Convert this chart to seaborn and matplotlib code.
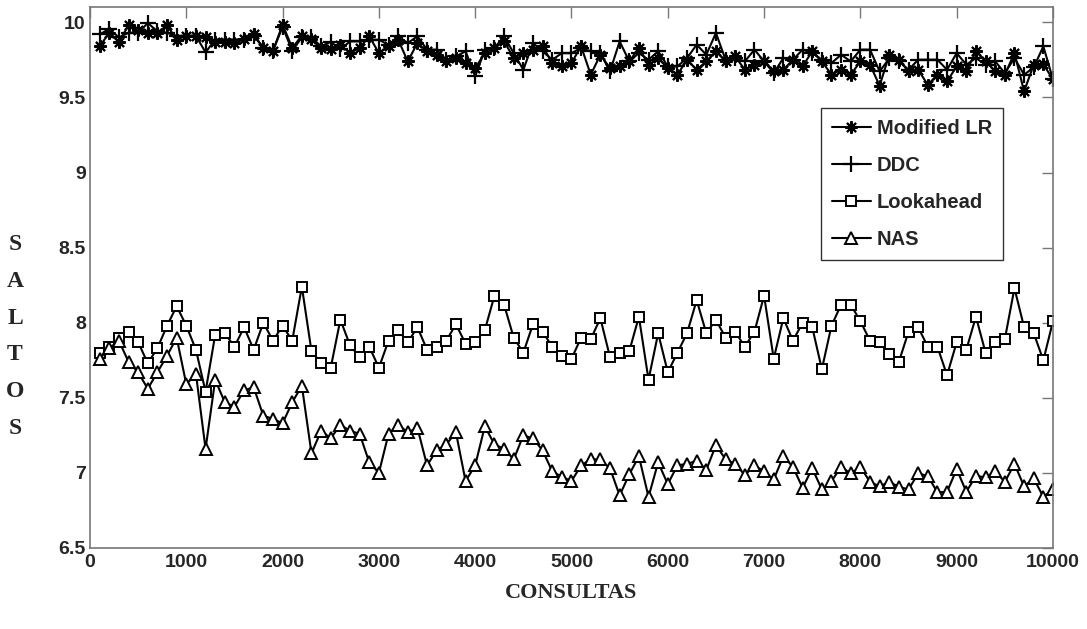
import matplotlib
matplotlib.use("Agg")
import matplotlib.pyplot as plt
import seaborn as sns
import pandas as pd

consultas = list(range(100, 10001, 100))

modified_lr = [9.84, 9.93, 9.87, 9.98, 9.95, 9.93, 9.93, 9.98, 9.885, 9.91, 9.91, 9.90, 9.87, 9.87, 9.86, 9.89, 9.92, 9.83, 9.81, 9.985, 9.83, 9.91, 9.89, 9.83, 9.82,
               9.85, 9.795, 9.83, 9.907, 9.795, 9.84, 9.884, 9.74, 9.862, 9.807, 9.784, 9.74, 9.762, 9.73, 9.695, 9.795, 9.83, 9.873, 9.762, 9.795, 9.818, 9.84, 9.73, 9.707, 9.73,
               9.84, 9.651, 9.784, 9.695, 9.707, 9.74, 9.829, 9.718, 9.762, 9.695, 9.651, 9.751, 9.684, 9.74, 9.807, 9.74, 9.773, 9.684, 9.718, 9.74, 9.673, 9.684, 9.751, 9.707, 9.807,
               9.74, 9.651, 9.684, 9.651, 9.74, 9.718, 9.578, 9.784, 9.751, 9.673, 9.684, 9.584, 9.651, 9.607, 9.707, 9.673, 9.807, 9.74, 9.673, 9.651, 9.795, 9.54, 9.718, 9.72, 9.62]

ddc = [9.92, 9.955, 9.90, 9.93, 9.93, 9.995, 9.94, 9.93, 9.91, 9.91, 9.91, 9.80, 9.885, 9.885, 9.885, 9.885, 9.91, 9.83, 9.81, 9.97, 9.81, 9.90, 9.90, 9.84, 9.87,
       9.82, 9.873, 9.873, 9.884, 9.884, 9.85, 9.907, 9.862, 9.907, 9.818, 9.818, 9.75, 9.773, 9.807, 9.64, 9.818, 9.83, 9.907, 9.795, 9.684, 9.862, 9.807, 9.75, 9.795, 9.795,
       9.829, 9.807, 9.795, 9.673, 9.873, 9.74, 9.795, 9.751, 9.807, 9.707, 9.707, 9.762, 9.851, 9.784, 9.929, 9.751, 9.762, 9.74, 9.818, 9.74, 9.662, 9.762, 9.751, 9.818, 9.795,
       9.75, 9.729, 9.784, 9.74, 9.818, 9.818, 9.673, 9.76, 9.74, 9.684, 9.751, 9.751, 9.751, 9.684, 9.795, 9.718, 9.762, 9.718, 9.74, 9.662, 9.762, 9.651, 9.70, 9.84, 9.62]

lookahead = [7.80, 7.84, 7.90, 7.94, 7.87, 7.73, 7.83, 7.98, 8.11, 7.98, 7.82, 7.54, 7.92, 7.93, 7.84, 7.97, 7.82, 8.00, 7.88, 7.98, 7.88, 8.24, 7.81, 7.73, 7.70,
             8.02, 7.85, 7.77, 7.84, 7.70, 7.88, 7.95, 7.87, 7.97, 7.82, 7.84, 7.88, 7.99, 7.86, 7.87, 7.95, 8.18, 8.12, 7.90, 7.80, 7.99, 7.94, 7.84, 7.78, 7.76,
             7.90, 7.89, 8.03, 7.77, 7.80, 7.81, 8.04, 7.62, 7.93, 7.67, 7.80, 7.93, 8.15, 7.93, 8.02, 7.90, 7.94, 7.84, 7.94, 8.18, 7.76, 8.03, 7.88, 8.00, 7.97,
             7.69, 7.98, 8.12, 8.12, 8.01, 7.88, 7.87, 7.79, 7.74, 7.94, 7.97, 7.84, 7.84, 7.65, 7.87, 7.82, 8.04, 7.80, 7.87, 7.89, 8.23, 7.97, 7.93, 7.75, 8.01]

nas = [7.76, 7.83, 7.88, 7.74, 7.67, 7.56, 7.67, 7.78, 7.90, 7.59, 7.66, 7.16, 7.62, 7.47, 7.44, 7.55, 7.57, 7.38, 7.36, 7.33, 7.47, 7.58, 7.13, 7.28, 7.23,
       7.32, 7.28, 7.26, 7.07, 7.00, 7.26, 7.32, 7.27, 7.30, 7.05, 7.15, 7.19, 7.27, 6.945, 7.05, 7.31, 7.19, 7.16, 7.09, 7.25, 7.23, 7.15, 7.01, 6.974, 6.945,
       7.05, 7.09, 7.09, 7.03, 6.85, 6.99, 7.11, 6.84, 7.07, 6.925, 7.05, 7.06, 7.08, 7.02, 7.185, 7.09, 7.06, 6.985, 7.05, 7.01, 6.956, 7.11, 7.04, 6.90, 7.03,
       6.89, 6.945, 7.04, 6.996, 7.04, 6.94, 6.91, 6.94, 6.907, 6.89, 6.996, 6.98, 6.87, 6.874, 7.025, 6.874, 6.98, 6.97, 7.01, 6.94, 7.06, 6.91, 6.963, 6.84, 6.89]

series_names = ["Modified LR", "DDC", "Lookahead", "NAS"]
x_ticks = [0, 1000, 2000, 3000, 4000, 5000, 6000, 7000, 8000, 9000, 10000]
y_ticks = [6.5, 7, 7.5, 8, 8.5, 9, 9.5, 10]
y_tick_labels = ["6.5", "7", "7.5", "8", "8.5", "9", "9.5", "10"]

sns.set_style("white")
plt.rcParams["font.family"] = ["Liberation Sans", "DejaVu Sans"]

fig = plt.figure(figsize=(10.87, 6.29), dpi=100)
ax = fig.add_axes([0.0828, 0.1288, 0.8859, 0.8596])

styles = {
    "Modified LR": dict(marker=(8, 2, 0), markersize=9, markeredgewidth=1.5),
    "DDC": dict(marker="+", markersize=11, markeredgewidth=1.6),
    "Lookahead": dict(marker="s", markersize=6.5, markerfacecolor="white", markeredgewidth=1.4),
    "NAS": dict(marker="^", markersize=8, markerfacecolor="white", markeredgewidth=1.4),
}
data = {"Modified LR": modified_lr, "DDC": ddc, "Lookahead": lookahead, "NAS": nas}

for name in series_names:
    df = pd.DataFrame({"x": consultas, "y": data[name]})
    sns.lineplot(data=df, x="x", y="y", ax=ax, color="black", linewidth=1.5,
                 markeredgecolor="black", label=name, **styles[name])

ax.set_xlim(0, 10000)
ax.set_ylim(6.5, 10.1)
ax.set_xticks(x_ticks)
ax.set_xticklabels([str(t) for t in x_ticks], fontsize=14, fontweight="bold")
ax.set_yticks(y_ticks)
ax.set_yticklabels(y_tick_labels, fontsize=14, fontweight="bold")
ax.tick_params(direction="in", top=True, right=True, length=8, width=1,
               color="#777777", pad=3)
ax.tick_params(axis="x", pad=4)
for sp in ax.spines.values():
    sp.set_color("#777777")
    sp.set_linewidth(1.2)
ax.set_xlabel("")
ax.set_ylabel("")

leg = ax.legend(loc="upper right", bbox_to_anchor=(0.948, 0.814), borderaxespad=0,
                frameon=True, fancybox=False, prop={"size": 14.5, "weight": "bold"},
                handlelength=1.9, handletextpad=0.3, borderpad=0.55, labelspacing=0.9,
                numpoints=1)
leg.get_frame().set_edgecolor("black")
leg.get_frame().set_linewidth(1.0)

fig.text(0.5257, 1 - 593 / 629, "CONSULTAS", ha="center", va="center",
         family="Liberation Serif", fontweight="bold", fontsize=16)
for i, ch in enumerate("SALTOS"):
    fig.text(15 / 1087, 1 - (245 + i * 36.6) / 629, ch, ha="center", va="center",
             family="Liberation Serif", fontweight="bold", fontsize=17)

fig.savefig("out.png", dpi=100)
